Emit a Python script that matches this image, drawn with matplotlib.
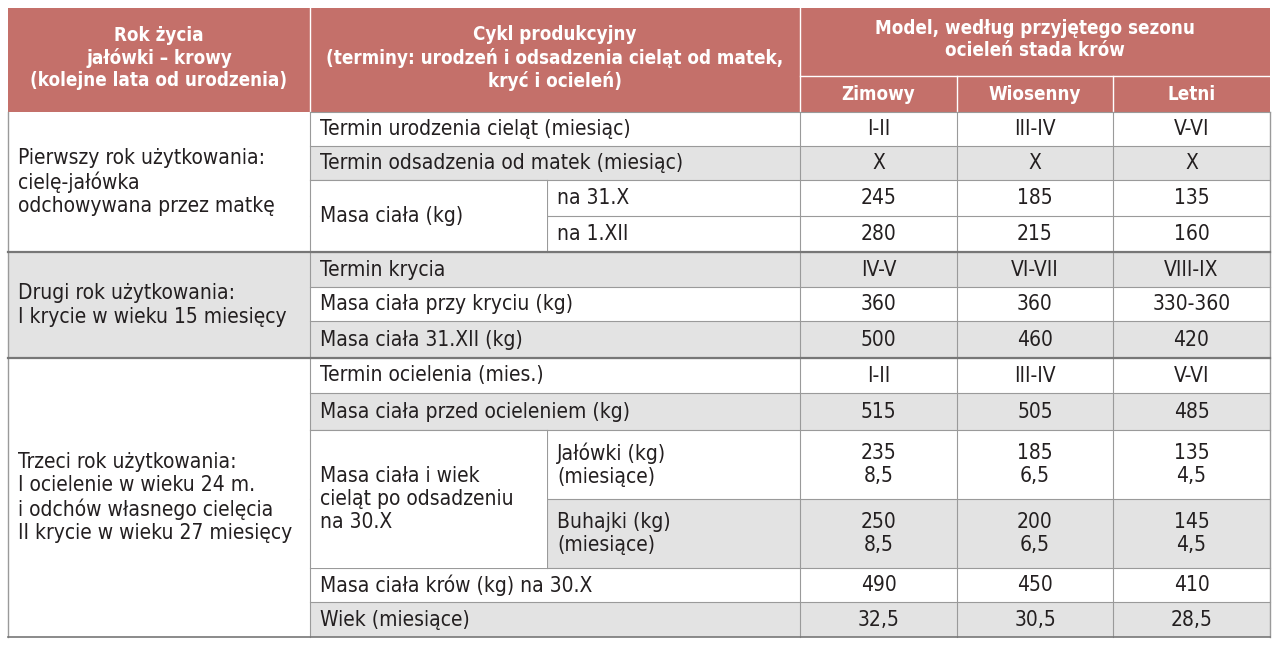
import matplotlib.pyplot as plt
from matplotlib.patches import Rectangle

HEAD = '#c4706a'
GREY = '#e3e3e3'
LINE = '#9a9a9a'

# column edges (px)
X = [8, 310, 547, 800, 957, 1113, 1270]

header_left = 'Rok życia\njałówki – krowy\n(kolejne lata od urodzenia)'
header_mid = 'Cykl produkcyjny\n(terminy: urodzeń i odsadzenia cieląt od matek,\nkryć i ocieleń)'
header_right = 'Model, według przyjętego sezonu\nocieleń stada krów'
seasons = ['Zimowy', 'Wiosenny', 'Letni']

groups = [
    'Pierwszy rok użytkowania:\ncielę-jałówka\nodchowywana przez matkę',
    'Drugi rok użytkowania:\nI krycie w wieku 15 miesięcy',
    'Trzeci rok użytkowania:\nI ocielenie w wieku 24 m.\ni odchów własnego cielęcia\nII krycie w wieku 27 miesięcy',
]
group_bounds = [(112, 252), (252, 358), (358, 637)]
group_bg = ['white', GREY, 'white']

row_edges = [112, 146, 180, 216, 252, 287, 321, 358, 393, 430, 499, 568, 602, 637]
row_labels = ['Termin urodzenia cieląt (miesiąc)', 'Termin odsadzenia od matek (miesiąc)',
              'Masa ciała (kg)', None,
              'Termin krycia', 'Masa ciała przy kryciu (kg)', 'Masa ciała 31.XII (kg)',
              'Termin ocielenia (mies.)', 'Masa ciała przed ocieleniem (kg)',
              'Masa ciała i wiek\ncieląt po odsadzeniu\nna 30.X', None,
              'Masa ciała krów (kg) na 30.X', 'Wiek (miesiące)']
row_sub = [None, None, 'na 31.X', 'na 1.XII', None, None, None, None, None,
           'Jałówki (kg)\n(miesiące)', 'Buhajki (kg)\n(miesiące)', None, None]
zimowy = ['I-II', 'X', '245', '280', 'IV-V', '360', '500', 'I-II', '515',
          '235\n8,5', '250\n8,5', '490', '32,5']
wiosenny = ['III-IV', 'X', '185', '215', 'VI-VII', '360', '460', 'III-IV', '505',
            '185\n6,5', '200\n6,5', '450', '30,5']
letni = ['V-VI', 'X', '135', '160', 'VIII-IX', '330-360', '420', 'V-VI', '485',
         '135\n4,5', '145\n4,5', '410', '28,5']
row_grey = [0, 1, 0, 0, 1, 0, 1, 0, 1, 0, 1, 0, 1]

FS = 15
plt.rcParams['font.family'] = ['DejaVu Sans']
fig = plt.figure(figsize=(12.8, 6.47), dpi=100)
ax = fig.add_axes([0, 0, 1, 1])
ax.set_xlim(0, 1280)
ax.set_ylim(647, 0)
ax.axis('off')

def txt(x, y, s, **kw):
    kw.setdefault('fontsize', FS)
    kw.setdefault('color', '#231f20')
    ax.text(x, y, s, va='center', fontstretch='condensed', linespacing=1.2, **kw)

# header
ax.add_patch(Rectangle((X[0], 8), X[-1] - X[0], 104, color=HEAD, lw=0))
hd = dict(color='white', fontweight='bold', fontsize=13.5, ha='center')
txt((X[0] + X[1]) / 2, 58, header_left, **hd)
txt((X[1] + X[3]) / 2, 58, header_mid, **hd)
txt((X[3] + X[6]) / 2, 40, header_right, **hd)
for i, s in enumerate(seasons):
    txt((X[3 + i] + X[4 + i]) / 2, 94, s, **hd)
ax.plot([X[3], X[6]], [76, 76], color='white', lw=1)
for x in [X[1], X[3], X[4], X[5]]:
    ax.plot([x, x], [76 if x > X[3] else 8, 112], color='white', lw=1)

# group cells
for (t, b), s, bg in zip(group_bounds, groups, group_bg):
    ax.add_patch(Rectangle((X[0], t), X[1] - X[0], b - t, color=bg, lw=0))
    txt(X[0] + 10, (t + b) / 2, s)

# rows
for i in range(len(row_labels)):
    t, b = row_edges[i], row_edges[i + 1]
    bg = GREY if row_grey[i] else 'white'
    ax.add_patch(Rectangle((X[1], t), X[6] - X[1], b - t, color=bg, lw=0))
    ax.plot([X[1], X[6]], [t, t], color=LINE, lw=0.8)
    m = (t + b) / 2
    if row_sub[i] is not None:
        txt(X[2] + 10, m, row_sub[i])
        ax.plot([X[2], X[2]], [t, b], color=LINE, lw=0.8)
    for j, v in enumerate([zimowy[i], wiosenny[i], letni[i]]):
        txt((X[3 + j] + X[4 + j]) / 2, m, v, ha='center', multialignment='center')

# merged first-level labels
i = 0
while i < len(row_labels):
    if row_labels[i] is None:
        i += 1
        continue
    t = row_edges[i]
    k = i + 1
    while k < len(row_labels) and row_labels[k] is None:
        k += 1
    b = row_edges[k]
    if k - i > 1:
        bg = GREY if row_grey[i] else 'white'
        ax.add_patch(Rectangle((X[1], t), X[2] - X[1], b - t, color=bg, lw=0, zorder=2))
        ax.plot([X[1], X[2]], [t, t], color=LINE, lw=0.8, zorder=3)
    txt(X[1] + 10, (t + b) / 2, row_labels[i], zorder=4)
    i = k

# vertical grid lines
for x in [X[1], X[3], X[4], X[5]]:
    ax.plot([x, x], [112, 637], color=LINE, lw=0.8, zorder=3)
for x in [X[0], X[6]]:
    ax.plot([x, x], [112, 637], color=LINE, lw=1, zorder=3)
for y in [252, 358]:
    ax.plot([X[0], X[6]], [y, y], color='#777777', lw=1.6, zorder=3)
ax.plot([X[0], X[6]], [637, 637], color='#777777', lw=1.2, zorder=3)

fig.savefig('out.png', dpi=100, facecolor='white')
